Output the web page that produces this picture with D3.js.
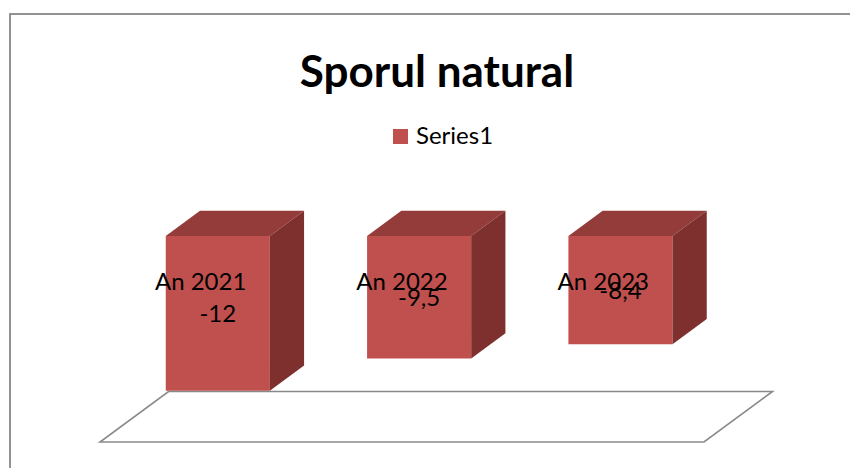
<!DOCTYPE html>
<html>
<head>
<meta charset="utf-8">
<script src="https://cdn.jsdelivr.net/npm/d3@7"></script>
<style>
  html, body { margin: 0; padding: 0; background: #ffffff; }
  svg { display: block; }
</style>
</head>
<body>
<svg id="chart" width="850" height="468"></svg>
<script>
// ---- data ----
const categories = ["An 2021", "An 2022", "An 2023"];
const values = [-12, -9.5, -8.4];
const seriesName = "Series1";
const chartTitle = "Sporul natural";
const valueDomain = [0, -15]; // hidden value axis (top = 0, floor = -15)

// ---- layout / style ----
const W = 850, H = 468;
const font = "Lato, 'Open Sans', sans-serif";
const colFront = "#C0504D", colTop = "#943C3A", colSide = "#7E302F";
const floorStroke = "#8a8a8a";
const DX = 68.5, DY = -50.5;        // oblique depth vector for the full floor depth
const zFront = 0.25, zBack = 0.75;  // bar depth extent

const svg = d3.select("#chart");
svg.append("rect").attr("width", W).attr("height", H).attr("fill", "#fff");

// chart border (runs off the right and bottom edges)
svg.append("rect")
  .attr("x", 10).attr("y", 14).attr("width", W).attr("height", H)
  .attr("fill", "none").attr("stroke", "#878787").attr("stroke-width", 1.8);

const x = d3.scaleBand().domain(categories).range([100, 704])
  .paddingInner(0.483).paddingOuter(0.2415);
const y = d3.scaleLinear().domain(valueDomain).range([248.6, 442]);

const proj = (px, v, z) => [px + z * DX, y(v) + z * DY];
const poly = pts => "M" + pts.map(p => p.join(",")).join("L") + "Z";

// floor at the bottom of the value axis
const xr = x.range();
const fl = valueDomain[1];
svg.append("path")
  .attr("d", poly([proj(xr[0], fl, 0), proj(xr[1], fl, 0), proj(xr[1], fl, 1), proj(xr[0], fl, 1)]))
  .attr("fill", "#fff").attr("stroke", floorStroke).attr("stroke-width", 1.6)
  .attr("stroke-linejoin", "miter");

// bars
const data = categories.map((c, i) => ({ c, v: values[i] }));
const bars = svg.append("g").selectAll("g").data(data).join("g");

bars.append("path") // front
  .attr("d", d => {
    const x0 = x(d.c), x1 = x(d.c) + x.bandwidth();
    return poly([proj(x0, 0, zFront), proj(x1, 0, zFront), proj(x1, d.v, zFront), proj(x0, d.v, zFront)]);
  })
  .attr("fill", colFront);
bars.append("path") // top
  .attr("d", d => {
    const x0 = x(d.c), x1 = x(d.c) + x.bandwidth();
    return poly([proj(x0, 0, zFront), proj(x1, 0, zFront), proj(x1, 0, zBack), proj(x0, 0, zBack)]);
  })
  .attr("fill", colTop);
bars.append("path") // right side
  .attr("d", d => {
    const x1 = x(d.c) + x.bandwidth();
    return poly([proj(x1, 0, zFront), proj(x1, 0, zBack), proj(x1, d.v, zBack), proj(x1, d.v, zFront)]);
  })
  .attr("fill", colSide);

// data labels
const ro = d3.formatLocale({ decimal: ",", thousands: ".", grouping: [3], currency: ["", " lei"], minus: "-" });
const fmt = ro.format("~g");
const labelSize = 24, lineH = 32;
const labelY = v => (proj(0, 0, zFront)[1] + proj(0, v, zFront)[1]) / 2 + 8.5;
const catY = labelY(d3.min(values)) - lineH;

const labels = svg.append("g").attr("font-family", font).attr("font-size", labelSize)
  .attr("fill", "#000").attr("text-anchor", "middle");
labels.selectAll("text.cat").data(data).join("text").attr("class", "cat")
  .attr("x", d => x(d.c) + x.bandwidth() / 2)
  .attr("y", catY)
  .text(d => d.c);
labels.selectAll("text.val").data(data).join("text").attr("class", "val")
  .attr("x", d => proj(x(d.c) + x.bandwidth() / 2, 0, zFront)[0])
  .attr("y", d => labelY(d.v))
  .text(d => fmt(d.v));

// title
svg.append("text")
  .attr("x", 437).attr("y", 87)
  .attr("text-anchor", "middle")
  .attr("font-family", font).attr("font-weight", 700).attr("font-size", 44)
  .attr("fill", "#000")
  .text(chartTitle);

// legend
const lg = svg.append("g").attr("transform", "translate(393,129)");
lg.append("rect").attr("width", 15).attr("height", 15).attr("fill", colFront);
lg.append("text").attr("x", 23).attr("y", 15.3)
  .attr("font-family", font).attr("font-size", labelSize).attr("fill", "#000")
  .text(seriesName);
</script>
</body>
</html>
